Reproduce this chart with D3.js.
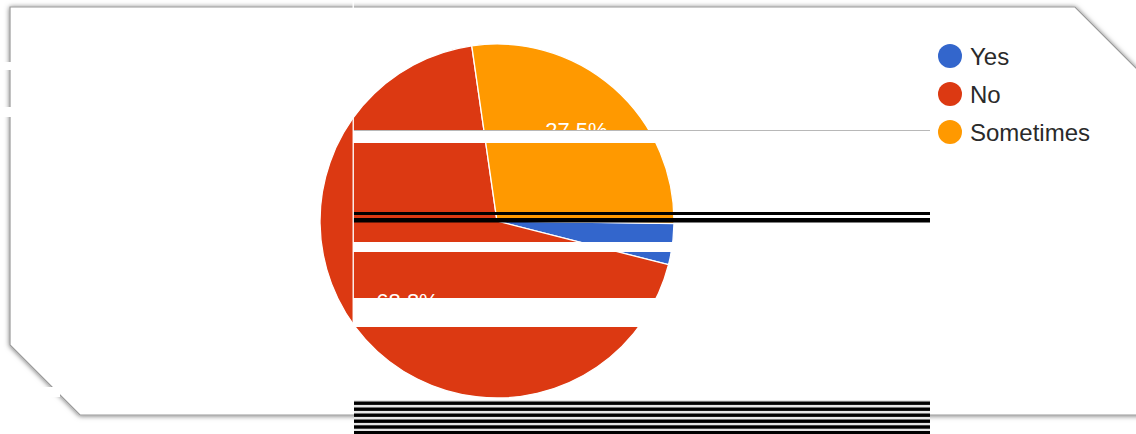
<!DOCTYPE html>
<html><head><meta charset="utf-8">
<script src="https://cdn.jsdelivr.net/npm/d3@7"></script>
<style>html,body{margin:0;padding:0;background:#fff;overflow:hidden}</style>
</head><body>
<svg id="c" width="1136" height="434"></svg>
<script>
// ---- data ----
const categories = ["Yes", "No", "Sometimes"];
const responses = [3, 55, 22];
const colors = ["#3366cc", "#dc3912", "#ff9900"];

const W = 1136, H = 434;
const svg = d3.select("#c");
const defs = svg.append("defs");
const f = defs.append("filter").attr("id", "sh").attr("x", "-5%").attr("y", "-10%").attr("width", "110%").attr("height", "120%");
f.append("feDropShadow").attr("dx", 0).attr("dy", 0.5).attr("stdDeviation", 2.4).attr("flood-color", "#000").attr("flood-opacity", 0.55);

// card frame
svg.append("path")
  .attr("d", "M10,7 L1075,7 L1142,74 L1142,415 L80,415 L10,345 Z")
  .attr("fill", "#fff").attr("stroke", "#9a9a9a").attr("stroke-width", 1.2)
  .attr("filter", "url(#sh)");

// pie
const cx = 497, cy = 221, r = 177;
const start = 90.8 * Math.PI / 180;
const pie = d3.pie().sort(null).value(d => d.v).startAngle(start).endAngle(start + 2 * Math.PI);
const data = categories.map((c, i) => ({ c, v: responses[i], col: colors[i] }));
const arcs = pie(data);
const total = d3.sum(responses);
const arc = d3.arc().innerRadius(0).outerRadius(r);
const labelArc = d3.arc().innerRadius(r * 0.68).outerRadius(r * 0.68);
const g = svg.append("g").attr("transform", `translate(${cx},${cy})`);
g.selectAll("path.s").data(arcs).join("path").attr("class", "s")
  .attr("d", arc).attr("fill", d => d.data.col).attr("stroke", "#fff").attr("stroke-width", 1.3);
g.selectAll("text.l").data(arcs.filter(d => d.data.v / total > 0.05)).join("text").attr("class", "l")
  .attr("transform", d => `translate(${labelArc.centroid(d)})`)
  .attr("text-anchor", "middle").attr("dy", "0.36em")
  .attr("font-family", "'Liberation Sans', Arial, sans-serif").attr("font-size", 22)
  .attr("fill", "#fff")
  .text(d => (d.data.v / total * 100).toFixed(1) + "%");

// legend
const lg = svg.append("g");
const items = lg.selectAll("g").data(data).join("g")
  .attr("transform", (d, i) => `translate(950,${56 + i * 38})`);
items.append("circle").attr("r", 12).attr("fill", d => d.col);
items.append("text").attr("x", 20).attr("dy", "0.36em")
  .attr("font-family", "'Liberation Sans', Arial, sans-serif").attr("font-size", 24)
  .attr("fill", "#2a2a2a").text(d => d.c);

// ---- screenshot glitch artefacts (decoration) ----
const deco = svg.append("g");
deco.append("rect").attr("x", 353).attr("y", 130).attr("width", 577).attr("height", 1).attr("fill", "#b8b8b8");
deco.append("rect").attr("x", 353).attr("y", 131).attr("width", 577).attr("height", 12).attr("fill", "#fff");
deco.append("rect").attr("x", 353).attr("y", 212).attr("width", 577).attr("height", 3).attr("fill", "#000");
deco.append("rect").attr("x", 353).attr("y", 218).attr("width", 577).attr("height", 4.5).attr("fill", "#000");
deco.append("rect").attr("x", 353).attr("y", 242).attr("width", 577).attr("height", 10).attr("fill", "#fff");
deco.append("rect").attr("x", 353).attr("y", 298).attr("width", 577).attr("height", 29).attr("fill", "#fff");
deco.append("rect").attr("x", 352.5).attr("y", 0).attr("width", 1.5).attr("height", 328).attr("fill", "#fff").attr("opacity", 0.9);
deco.append("rect").attr("x", 354).attr("y", 400).attr("width", 576).attr("height", 34).attr("fill", "#e6e6e6");
[401.5, 407.5, 413.5, 419.5, 425.3, 431].forEach(y =>
  deco.append("rect").attr("x", 354).attr("y", y).attr("width", 576).attr("height", 3.4).attr("fill", "#000"));
deco.append("rect").attr("x", 0).attr("y", 62).attr("width", 12).attr("height", 8).attr("fill", "#fff");
deco.append("rect").attr("x", 0).attr("y", 107).attr("width", 12).attr("height", 10).attr("fill", "#fff");
deco.append("rect").attr("x", 0).attr("y", 387).attr("width", 60).attr("height", 10).attr("fill", "#fff");
</script>
</body></html>
